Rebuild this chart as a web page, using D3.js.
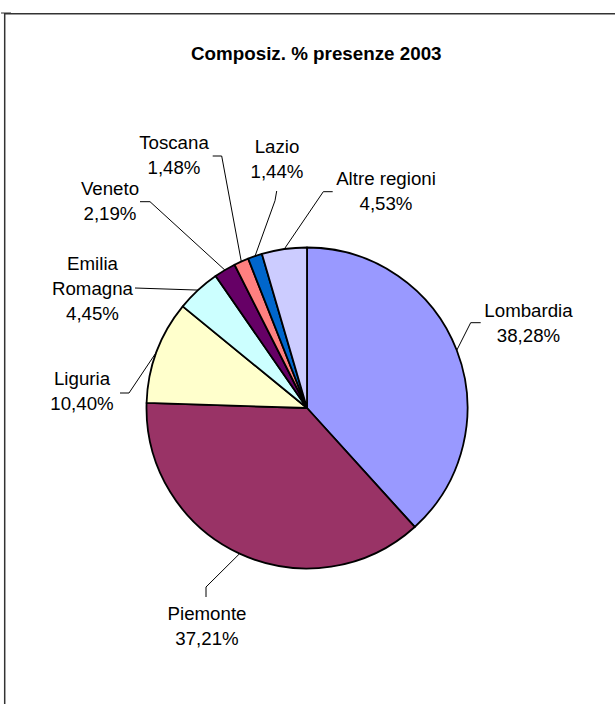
<!DOCTYPE html>
<html>
<head>
<meta charset="utf-8">
<script src="https://cdn.jsdelivr.net/npm/d3@7"></script>
<style>
  html, body { margin: 0; padding: 0; background: #fff; }
  svg { display: block; }
</style>
</head>
<body>
<svg id="chart" width="615" height="704"></svg>
<script>
// ---- data ----
const title = "Composiz. % presenze 2003";
const categories = ["Lombardia", "Piemonte", "Liguria", "Emilia Romagna", "Veneto", "Toscana", "Lazio", "Altre regioni"];
const values = [38.28, 37.21, 10.40, 4.45, 2.19, 1.48, 1.44, 4.53];
const colors = ["#9999FF", "#993366", "#FFFFCC", "#CCFFFF", "#660066", "#FF8080", "#0066CC", "#CCCCFF"];

// ---- layout (label anchors & leader elbows) ----
const labelLayout = [
  { x: 528.5, y: 316.7, lines: ["Lombardia"], leader: [[470.7, 322.7], [480.7, 322.7]] },
  { x: 207,   y: 620,   lines: ["Piemonte"], leader: [[206, 587], [206, 597]] },
  { x: 82,    y: 385,   lines: ["Liguria"], leader: [[129, 393], [120, 393]] },
  { x: 92.5,  y: 270,   lines: ["Emilia", "Romagna"], leader: [[135, 288]] },
  { x: 110,   y: 195,   lines: ["Veneto"], leader: [[150, 201.7], [140, 201.7]] },
  { x: 174,   y: 149.3, lines: ["Toscana"], leader: [[221.7, 156], [212.7, 156]] },
  { x: 277,   y: 153.3, lines: ["Lazio"], leader: [[275, 200.7], [276.7, 191]] },
  { x: 386,   y: 185,   lines: ["Altre regioni"], leader: [[323.3, 191.7], [332.7, 191.7]] }
];

const cx = 307, cy = 408, R = 160.5;
const fontSize = 18.7, lineH = 25;

const svg = d3.select("#chart");

// frame
svg.append("path")
  .attr("d", "M4.7,704 L4.7,13.8 L615,13.8")
  .attr("fill", "none").attr("stroke", "#333").attr("stroke-width", 1.5);
svg.append("path")
  .attr("d", "M1,13 L11,13 L11,14")
  .attr("fill", "none").attr("stroke", "#333").attr("stroke-width", 1);

// title
svg.append("text")
  .attr("x", 316.3).attr("y", 60)
  .attr("text-anchor", "middle")
  .attr("font-family", "'Liberation Sans', Arial, sans-serif")
  .attr("font-weight", "bold")
  .attr("font-size", 18.8)
  .attr("fill", "#000")
  .text(title);

const data = categories.map((c, i) => ({ name: c, value: values[i], color: colors[i], layout: labelLayout[i] }));

const pie = d3.pie().sort(null).value(d => d.value).startAngle(0).endAngle(2 * Math.PI);
const arc = d3.arc().innerRadius(0).outerRadius(R);
const arcs = pie(data);

const g = svg.append("g").attr("transform", `translate(${cx},${cy})`);

g.selectAll("path.slice")
  .data(arcs)
  .join("path")
  .attr("class", "slice")
  .attr("d", arc)
  .attr("fill", d => d.data.color)
  .attr("stroke", "#000")
  .attr("stroke-width", 1.8)
  .attr("stroke-linejoin", "round");

const fmt = v => d3.format(".2f")(v).replace(".", ",") + "%";

// leader lines
arcs.forEach(a => {
  const mid = (a.startAngle + a.endAngle) / 2;
  const ex = cx + R * Math.sin(mid);
  const ey = cy - R * Math.cos(mid);
  const pts = [[ex, ey]].concat(a.data.layout.leader);
  svg.append("path")
    .attr("d", d3.line()(pts))
    .attr("fill", "none")
    .attr("stroke", "#000")
    .attr("stroke-width", 1);
});

// labels
arcs.forEach(a => {
  const L = a.data.layout;
  const t = svg.append("text")
    .attr("text-anchor", "middle")
    .attr("font-family", "'Liberation Sans', Arial, sans-serif")
    .attr("font-size", fontSize)
    .attr("fill", "#000");
  const lines = L.lines.concat([fmt(a.data.value)]);
  lines.forEach((s, i) => {
    t.append("tspan").attr("x", L.x).attr("y", L.y + i * lineH).text(s);
  });
});
</script>
</body>
</html>
